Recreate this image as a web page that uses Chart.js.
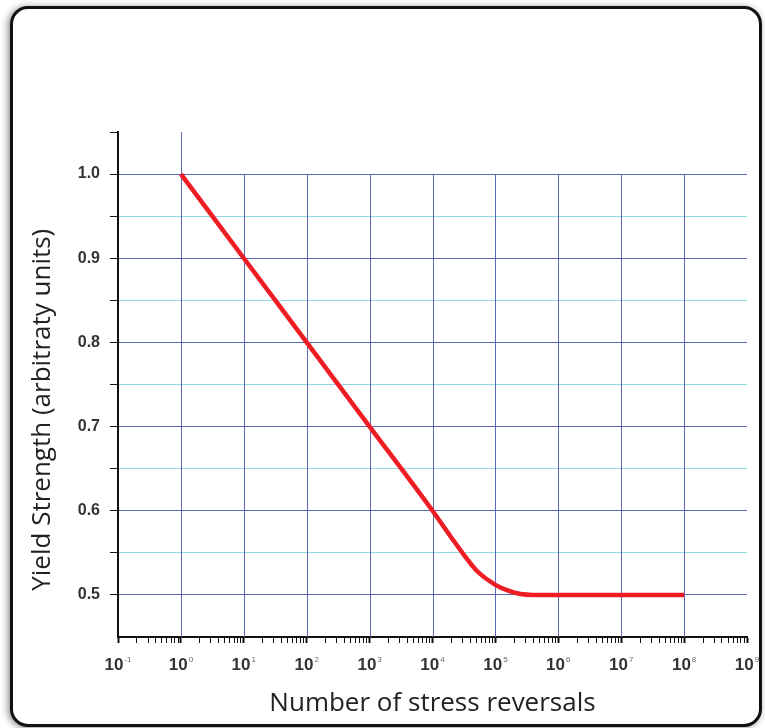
<!DOCTYPE html>
<html>
<head>
<meta charset="utf-8">
<script src="https://cdn.jsdelivr.net/npm/chart.js@4.4.1/dist/chart.umd.min.js"></script>
<style>
    html, body { margin: 0; padding: 0; background: #fff; }
    #wrap { position: relative; width: 765px; height: 728px; overflow: hidden; }
    #frame {
        position: absolute; left: 10px; top: 6px; width: 746px; height: 715px;
        border: 3px solid #111; border-radius: 18px;
        box-shadow: -2px 1px 7px rgba(0,0,0,0.45);
        background: #fff;
    }
    #chart { position: absolute; left: 0; top: 0; }
</style>
</head>
<body>
<div id="wrap">
    <div id="frame"></div>
    <canvas id="chart" width="765" height="728"></canvas>
</div>
<script>
// stress reversals (x, log scale) and relative yield strength (y)
const reversals = [1, 10, 100, 1000, 1e4, 2e4, 3.2e4, 5e4, 1e5, 1.6e5, 2.5e5, 4e5, 1e6, 1e7, 1e8];
const yieldStrength = [1.0, 0.9, 0.8, 0.7, 0.6, 0.568, 0.547, 0.529, 0.512, 0.505, 0.501, 0.5, 0.5, 0.5, 0.5];

// decade ticks on x and their exponents (drawn as 10 + small superscript)
const xDecades = [-1, 0, 1, 2, 3, 4, 5, 6, 7, 8, 9];
const xExponents = ['-1', '0', '1', '2', '3', '4', '5', '6', '7', '8', '9'];
const xGridDecades = [0, 1, 2, 3, 4, 5, 6, 7, 8];

const yTicks = [0.45, 0.5, 0.55, 0.6, 0.65, 0.7, 0.75, 0.8, 0.85, 0.9, 0.95, 1.0, 1.05];
const yTickLabels = { '0.50': '0.5', '0.60': '0.6', '0.70': '0.7', '0.80': '0.8', '0.90': '0.9', '1.00': '1.0' };

const BLUE = '#5b69b8';
const CYAN = '#93d9e2';

function isMajorY(v) {
    return Math.abs(v * 10 - Math.round(v * 10)) < 1e-6;
}

// vertical grid: 10^0 reaches the top of the axis, the others stop at 1.0
const verticalGrid = {
    id: 'verticalGrid',
    beforeDatasetsDraw(chart) {
        const { ctx, scales: { x, y } } = chart;
        ctx.save();
        ctx.strokeStyle = BLUE;
        ctx.lineWidth = 1;
        xGridDecades.forEach(function (d) {
            const px = Math.round(x.getPixelForValue(Math.pow(10, d))) + 0.5;
            const top = d === 0 ? y.getPixelForValue(1.05) : y.getPixelForValue(1.0);
            ctx.beginPath();
            ctx.moveTo(px, top);
            ctx.lineTo(px, y.getPixelForValue(0.45));
            ctx.stroke();
        });
        ctx.restore();
    }
};

// x tick labels as 10 with a small raised exponent
const decadeLabels = {
    id: 'decadeLabels',
    afterDraw(chart) {
        const { ctx, scales: { x } } = chart;
        const big = 'bold 17px "Liberation Sans", Arial, sans-serif';
        const small = '8px "Liberation Sans", Arial, sans-serif';
        const baseY = x.top + 33;
        ctx.save();
        ctx.textBaseline = 'alphabetic';
        ctx.textAlign = 'left';
        xDecades.forEach(function (d, i) {
            const px = x.getPixelForValue(Math.pow(10, d));
            ctx.font = big;
            const w1 = ctx.measureText('10').width;
            ctx.font = small;
            const w2 = ctx.measureText(xExponents[i]).width;
            const left = px - (w1 + w2 + 1) / 2;
            ctx.font = big;
            ctx.fillStyle = '#333';
            ctx.fillText('10', left, baseY);
            ctx.font = small;
            ctx.fillStyle = '#666';
            ctx.fillText(xExponents[i], left + w1 + 1, baseY - 8);
        });
        ctx.restore();
    }
};

const yTitle = {
    id: 'yTitle',
    afterDraw(chart) {
        const { ctx, scales: { y } } = chart;
        ctx.save();
        ctx.translate(43, y.getPixelForValue(0.72));
        ctx.rotate(-Math.PI / 2);
        ctx.font = '26px "Open Sans", sans-serif';
        ctx.fillStyle = '#222';
        ctx.textAlign = 'center';
        ctx.textBaseline = 'middle';
        ctx.fillText('Yield Strength (arbitraty units)', 0, 0);
        ctx.restore();
    }
};

new Chart(document.getElementById('chart'), {
    type: 'line',
    data: {
        datasets: [{
            data: reversals.map(function (v, i) { return { x: v, y: yieldStrength[i] }; }),
            borderColor: '#ee1c23',
            borderWidth: 4.5,
            pointRadius: 0,
            cubicInterpolationMode: 'monotone',
            fill: false
        }]
    },
    plugins: [verticalGrid, decadeLabels, yTitle],
    options: {
        responsive: false,
        animation: false,
        layout: { padding: { left: 30, right: 18, top: 132, bottom: 0 } },
        plugins: {
            legend: { display: false },
            tooltip: { enabled: false }
        },
        scales: {
            x: {
                type: 'logarithmic',
                min: 0.1,
                max: 1e9,
                afterFit: function (s) { s.height = 91; },
                afterBuildTicks: function (s) {
                    const ticks = [];
                    xDecades.forEach(function (d) {
                        if (d < 9) {
                            for (let m = 1; m < 10; m++) ticks.push({ value: m * Math.pow(10, d) });
                        } else {
                            ticks.push({ value: Math.pow(10, d) });
                        }
                    });
                    s.ticks = ticks;
                },
                ticks: {
                    autoSkip: false,
                    maxRotation: 0,
                    callback: function () { return ''; }
                },
                grid: {
                    drawOnChartArea: false,
                    drawTicks: true,
                    tickLength: 6,
                    tickColor: '#111',
                    tickWidth: function (c) {
                        const d = Math.log10(c.tick.value);
                        return Math.abs(d - Math.round(d)) < 1e-9 ? 2 : 1;
                    }
                },
                border: { display: true, color: '#111', width: 2 },
                title: {
                    display: true,
                    text: 'Number of stress reversals',
                    color: '#222',
                    font: { family: '"Open Sans", sans-serif', size: 26 },
                    padding: { top: 0, bottom: 9 }
                }
            },
            y: {
                type: 'linear',
                min: 0.45,
                max: 1.05,
                afterFit: function (s) { s.width = 88; },
                afterBuildTicks: function (s) {
                    s.ticks = yTicks.map(function (v) { return { value: v }; });
                },
                ticks: {
                    autoSkip: false,
                    padding: 10,
                    color: '#333',
                    font: { family: '"Liberation Sans", Arial, sans-serif', size: 16, weight: 'bold' },
                    callback: function (v) {
                        return yTickLabels[Number(v).toFixed(2)] || '';
                    }
                },
                grid: {
                    drawTicks: true,
                    tickLength: 8,
                    tickColor: function (c) {
                        return Math.abs(c.tick.value - 0.45) < 1e-6 ? 'rgba(0,0,0,0)' : '#111';
                    },
                    color: function (c) {
                        const v = c.tick.value;
                        if (Math.abs(v - 0.45) < 1e-6 || Math.abs(v - 1.05) < 1e-6) return 'rgba(0,0,0,0)';
                        return isMajorY(v) ? BLUE : CYAN;
                    },
                    lineWidth: 1
                },
                border: { display: true, color: '#111', width: 2 }
            }
        }
    }
});
</script>
</body>
</html>
